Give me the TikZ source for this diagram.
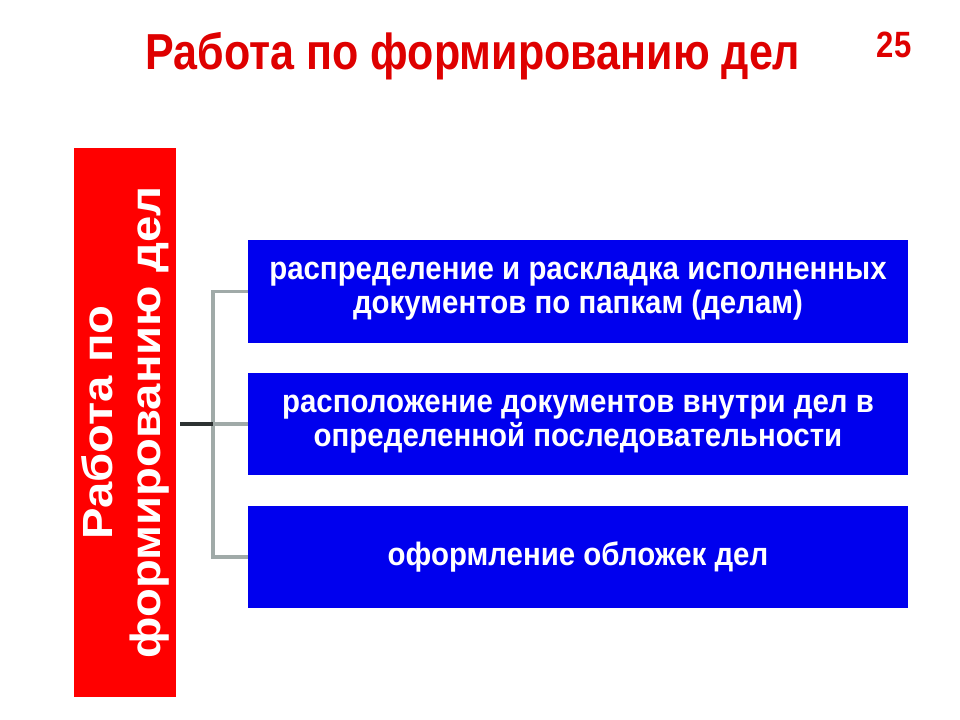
\documentclass[tikz,border=0pt]{standalone}
\usepackage{fontspec}
\usepackage{tikz}
\usetikzlibrary{positioning}
\newfontfamily\slidefont{Liberation Sans}[FakeStretch=0.85]
\newfontfamily\boxfont{Liberation Sans}[FakeStretch=0.91]
\newfontfamily\tallfont{Liberation Sans}[FakeStretch=1.12]
\definecolor{titlered}{RGB}{222,0,0}
\definecolor{headred}{RGB}{255,0,0}
\definecolor{taskblue}{RGB}{0,0,238}
\definecolor{linkgrey}{RGB}{160,170,168}
\definecolor{linkdark}{RGB}{45,50,50}
\tikzstyle{task}=[fill=taskblue,text=white,minimum width=16.5cm,minimum height=2.55cm,inner sep=0pt,align=center,font=\boxfont\bfseries\fontsize{23}{24}\selectfont]
\tikzstyle{link}=[draw=linkgrey,line width=2.8pt]

\begin{document}
\begin{tikzpicture}[x=0.025cm,y=-0.025cm,node distance=0.75cm]
    \useasboundingbox (0,0) rectangle (960,720);
    \node (title) [text=titlered,font=\slidefont\bfseries\fontsize{36}{40}\selectfont] at (473,56) {Работа по формированию дел};
    \node (page) [text=titlered,font=\slidefont\bfseries\fontsize{26}{30}\selectfont] at (894,45) {25};
    \node (head) [fill=headred,text=white,rotate=90,minimum width=13.725cm,minimum height=2.55cm,inner sep=0pt,align=center,font=\tallfont\bfseries\fontsize{30}{34}\selectfont] at (125,422.5) {Работа по\\формированию дел};
    \node (t1) [task] at (578,291.5) {распределение и раскладка исполненных\\документов по папкам (делам)};
    \node (t2) [task,below=of t1] {расположение документов внутри дел в\\определенной последовательности};
    \node (t3) [task,below=of t2] {оформление обложек дел};
    % links
    \draw [link] (t1.west) -- ++(-35,0) |- (t3.west);
    \draw [link] (t2.west) -- ++(-35,0) coordinate (hub);
    \draw [link,draw=linkdark] (hub) -- ([xshift=4*0.025cm]head.south|-hub);
\end{tikzpicture}
\end{document}
